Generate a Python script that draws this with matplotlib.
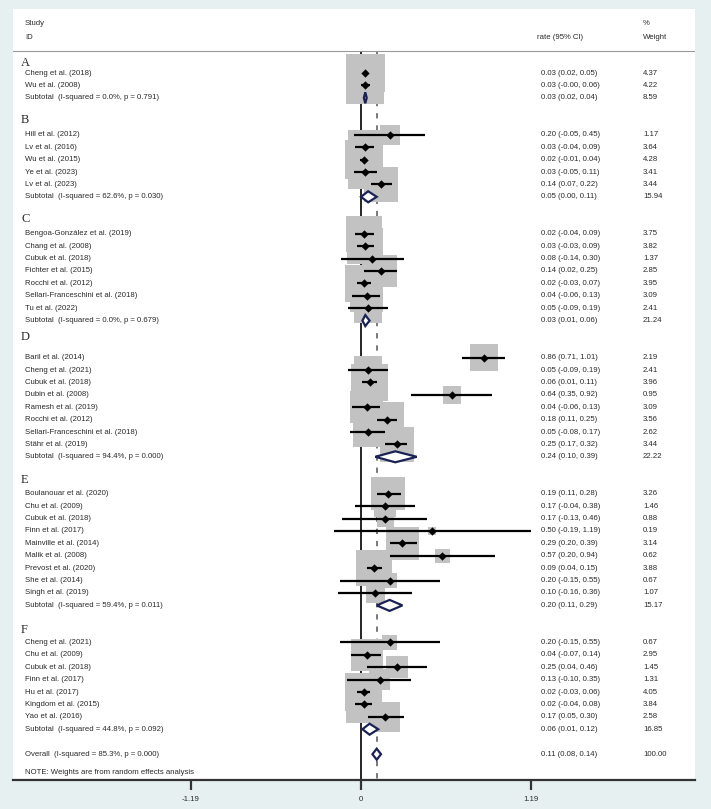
import numpy as np
import matplotlib.pyplot as plt

plt.rcParams['font.family'] = ['Liberation Sans', 'DejaVu Sans']

# ---- data ----
group_names = ["A", "B", "C", "D", "E", "F"]

studies_A = ["Cheng et al. (2018)", "Wu et al. (2008)"]
est_A = [0.03, 0.03]
lo_A = [0.02, -0.00]
hi_A = [0.05, 0.06]
w_A = [4.37, 4.22]

studies_B = ["Hill et al. (2012)", "Lv et al. (2016)", "Wu et al. (2015)",
             "Ye et al. (2023)", "Lv et al. (2023)"]
est_B = [0.20, 0.03, 0.02, 0.03, 0.14]
lo_B = [-0.05, -0.04, -0.01, -0.05, 0.07]
hi_B = [0.45, 0.09, 0.04, 0.11, 0.22]
w_B = [1.17, 3.64, 4.28, 3.41, 3.44]

studies_C = ["Bengoa-González et al. (2019)", "Chang et al. (2008)", "Cubuk et al. (2018)",
             "Fichter et al. (2015)", "Rocchi et al. (2012)",
             "Sellari-Franceschini et al. (2018)", "Tu et al. (2022)"]
est_C = [0.02, 0.03, 0.08, 0.14, 0.02, 0.04, 0.05]
lo_C = [-0.04, -0.03, -0.14, 0.02, -0.03, -0.06, -0.09]
hi_C = [0.09, 0.09, 0.30, 0.25, 0.07, 0.13, 0.19]
w_C = [3.75, 3.82, 1.37, 2.85, 3.95, 3.09, 2.41]

studies_D = ["Baril et al. (2014)", "Cheng et al. (2021)", "Cubuk et al. (2018)",
             "Dubin et al. (2008)", "Ramesh et al. (2019)", "Rocchi et al. (2012)",
             "Sellari-Franceschini et al. (2018)", "Stähr et al. (2019)"]
est_D = [0.86, 0.05, 0.06, 0.64, 0.04, 0.18, 0.05, 0.25]
lo_D = [0.71, -0.09, 0.01, 0.35, -0.06, 0.11, -0.08, 0.17]
hi_D = [1.01, 0.19, 0.11, 0.92, 0.13, 0.25, 0.17, 0.32]
w_D = [2.19, 2.41, 3.96, 0.95, 3.09, 3.56, 2.62, 3.44]

studies_E = ["Boulanouar et al. (2020)", "Chu et al. (2009)", "Cubuk et al. (2018)",
             "Finn et al. (2017)", "Mainville et al. (2014)", "Malik et al. (2008)",
             "Prevost et al. (2020)", "She et al. (2014)", "Singh et al. (2019)"]
est_E = [0.19, 0.17, 0.17, 0.50, 0.29, 0.57, 0.09, 0.20, 0.10]
lo_E = [0.11, -0.04, -0.13, -0.19, 0.20, 0.20, 0.04, -0.15, -0.16]
hi_E = [0.28, 0.38, 0.46, 1.19, 0.39, 0.94, 0.15, 0.55, 0.36]
w_E = [3.26, 1.46, 0.88, 0.19, 3.14, 0.62, 3.88, 0.67, 1.07]

studies_F = ["Cheng et al. (2021)", "Chu et al. (2009)", "Cubuk et al. (2018)",
             "Finn et al. (2017)", "Hu et al. (2017)", "Kingdom et al. (2015)",
             "Yao et al. (2016)"]
est_F = [0.20, 0.04, 0.25, 0.13, 0.02, 0.02, 0.17]
lo_F = [-0.15, -0.07, 0.04, -0.10, -0.03, -0.04, 0.05]
hi_F = [0.55, 0.14, 0.46, 0.35, 0.06, 0.08, 0.30]
w_F = [0.67, 2.95, 1.45, 1.31, 4.05, 3.84, 2.58]

sub_i2 = ["0.0%", "62.6%", "0.0%", "94.4%", "59.4%", "44.8%"]
sub_p = ["0.791", "0.030", "0.679", "0.000", "0.011", "0.092"]
sub_est = [0.03, 0.05, 0.03, 0.24, 0.20, 0.06]
sub_lo = [0.02, 0.00, 0.01, 0.10, 0.11, 0.01]
sub_hi = [0.04, 0.11, 0.06, 0.39, 0.29, 0.12]
sub_w = [8.59, 15.94, 21.24, 22.22, 15.17, 16.85]

overall_i2, overall_p = "85.3%", "0.000"
overall_est, overall_lo, overall_hi, overall_w = 0.11, 0.08, 0.14, 100.00

xtick_vals = [-1.19, 0, 1.19]

groups = [
    (studies_A, est_A, lo_A, hi_A, w_A),
    (studies_B, est_B, lo_B, hi_B, w_B),
    (studies_C, est_C, lo_C, hi_C, w_C),
    (studies_D, est_D, lo_D, hi_D, w_D),
    (studies_E, est_E, lo_E, hi_E, w_E),
    (studies_F, est_F, lo_F, hi_F, w_F),
]

# ---- layout (pixel-like row positions) ----
W, H = 711, 809
px0, px_unit = 361, 142.9          # pixel of x=0, pixels per unit
pl, pr, pt, pb = 13, 695, 9, 780    # panel edges
row_step = 12.4
label_gaps = [(12, 10), (22, 15), (22, 15), (16, 21), (23, 14), (25, 12)]

bg = '#e6f0f1'
txt = '#2a2a2a'
fs = 5.6
box_col = '#c2c2c2'
dia_edge = '#1a2255'

fig = plt.figure(figsize=(W / 100, H / 100), dpi=100, facecolor=bg)
ax = fig.add_axes([pl / W, (H - pb) / H, (pr - pl) / W, (pb - pt) / H])
ax.set_facecolor('white')
ax.set_xlim((pl - px0) / px_unit, (pr - px0) / px_unit)
ax.set_ylim(pb, pt)

tr = ax.get_yaxis_transform()
def col(px):
    return (px - pl) / (pr - pl)

def put(px, yy, s):
    ax.text(col(px), yy, s, transform=tr, fontsize=fs, color=txt, va='center')

# header
put(25, 23, "Study")
put(25, 37, "ID")
put(537, 37, "rate (95% CI)")
put(643, 23, "%")
put(643, 37, "Weight")
ax.axhline(51, color='#9a9a9a', lw=0.8)

def diamond(y, e, l, h):
    hh = 5.5
    ax.fill([l, e, h, e], [y, y - hh, y, y + hh], facecolor='white',
            edgecolor=dia_edge, lw=1.6, zorder=6)

y = 51
for gi, (names, est, lo, hi, w) in enumerate(groups):
    before, after = label_gaps[gi]
    y += before
    ax.text(col(21), y, group_names[gi], transform=tr, fontsize=9,
            family='Liberation Serif', color=txt, va='center')
    y += after
    ys = y + row_step * np.arange(len(names))
    ax.scatter(est, ys, s=np.array(w) * 177, marker='s', color=box_col,
               linewidths=0, zorder=3)
    ax.hlines(ys, lo, hi, color='black', lw=1.6, zorder=4)
    ax.scatter(est, ys, s=18, marker='D', color='black', linewidths=0, zorder=5)
    for n, yy, e, l, h, ww in zip(names, ys, est, lo, hi, w):
        put(25, yy, n)
        put(541, yy, f"{e:.2f} ({l:.2f}, {h:.2f})")
        put(643, yy, f"{ww:.2f}")
    y = ys[-1] + row_step
    diamond(y, sub_est[gi], sub_lo[gi], sub_hi[gi])
    put(25, y, f"Subtotal  (I-squared = {sub_i2[gi]}, p = {sub_p[gi]})")
    put(541, y, f"{sub_est[gi]:.2f} ({sub_lo[gi]:.2f}, {sub_hi[gi]:.2f})")
    put(643, y, f"{sub_w[gi]:.2f}")

y += 25
diamond(y, overall_est, overall_lo, overall_hi)
put(25, y, f"Overall  (I-squared = {overall_i2}, p = {overall_p})")
put(541, y, f"{overall_est:.2f} ({overall_lo:.2f}, {overall_hi:.2f})")
put(643, y, f"{overall_w:.2f}")
y += 18
put(25, y, "NOTE: Weights are from random effects analysis")

# reference lines
ax.vlines(0, 52, pb, color='black', lw=1.2, zorder=1)
ax.vlines(overall_est, 52, pb, color='#555555', lw=1.1, linestyles=(0, (3.5, 4.5)),
          zorder=1)

# axis
for s in ['top', 'left', 'right']:
    ax.spines[s].set_visible(False)
ax.spines['bottom'].set_color('#333333')
ax.spines['bottom'].set_linewidth(1.6)
ax.set_yticks([])
ax.set_xticks(xtick_vals)
ax.set_xticklabels([f"{v:g}" for v in xtick_vals], fontsize=fs, color=txt)
ax.tick_params(axis='x', length=7.5, width=1.6, color='#333333', pad=4)

fig.savefig("out.png", dpi=100, facecolor=bg)
